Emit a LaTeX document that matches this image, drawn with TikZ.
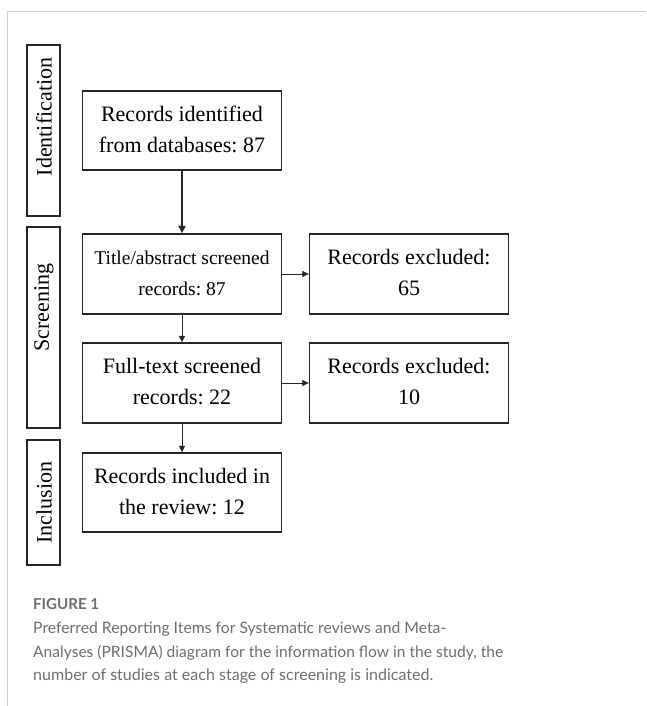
\documentclass[tikz,border=0pt]{standalone}
\usepackage{fontspec}
\usepackage{graphicx}
\setmainfont{Liberation Serif}
\newfontfamily\capfont{Lato}
\usetikzlibrary{arrows.meta}
\frenchspacing
\definecolor{framegray}{HTML}{D0D0D0}
\definecolor{capgray}{HTML}{6E6E6E}
\definecolor{boxline}{HTML}{262626}
\newcommand{\boxtext}[2][22]{{\fontsize{#1}{31}\selectfont\begin{tabular}{@{}c@{}}#2\end{tabular}}}
\newcommand{\sidetext}[1]{\rotatebox{90}{\fontsize{22}{26}\selectfont #1}}
\newcommand{\capline}[2]{\resizebox{#1}{!}{\fontsize{15}{22}\selectfont\capfont #2}}
\tikzset{
  flowbox/.style={draw=boxline, line width=1.4pt, rectangle, inner sep=0pt, minimum width=199pt},
  sidebox/.style={draw=boxline, line width=1.4pt, rectangle, inner sep=0pt, minimum width=33pt},
  plain/.style={inner sep=0pt},
  flowarrow/.style={draw=boxline, line width=0.8pt, -{Triangle[length=6.5pt,width=6pt]}},
  bigarrow/.style={draw=boxline, line width=1.6pt, -{Triangle[length=7.5pt,width=7pt]}},
  captext/.style={inner sep=0pt, anchor=base west, text=capgray}
}
\begin{document}
\begin{tikzpicture}[x=1pt,y=-1pt]
\useasboundingbox (0,0) rectangle (646,706);
% outer frame
\coordinate (frameR) at (646,12);
\coordinate (frameC) at (7,12);
\coordinate (frameB) at (7,706);
\draw[framegray, line width=1pt] (frameR) -- (frameC) -- (frameB);
% side boxes
\node[sidebox, minimum height=171pt] (idbox) at (43.5,130.5) {};
\node[plain] (idtext) at (44,117) {\sidetext{Identification}};
\node[sidebox, minimum height=201pt] (scbox) at (43.5,327.5) {};
\node[plain] (sctext) at (44,307.5) {\sidetext{Screening}};
\node[sidebox, minimum height=125pt] (inbox) at (43.5,502.5) {};
\node[plain] (intext) at (44,502.5) {\sidetext{Inclusion}};
% flow boxes
\node[flowbox, minimum height=79pt] (rid) at (182,130.5) {\boxtext{Records identified\\from databases: 87}};
\node[flowbox, minimum height=80pt] (tas) at (182,274) {\boxtext[19.5]{Title/abstract screened\\records: 87}};
\node[flowbox, minimum height=80pt] (ex1) at (409,274) {\boxtext{Records excluded:\\65}};
\node[flowbox, minimum height=80pt] (fts) at (182,383) {\boxtext{Full-text screened\\records: 22}};
\node[flowbox, minimum height=80pt] (ex2) at (409,383) {\boxtext{Records excluded:\\10}};
\node[flowbox, minimum height=79pt] (inc) at (182,492.5) {\boxtext{Records included in\\the review: 12}};
% arrows
\draw[bigarrow] (rid.south) -- (tas.north);
\draw[flowarrow] (tas.east) -- (ex1.west);
\draw[flowarrow] (tas.south) -- (fts.north);
\draw[flowarrow] (fts.east) -- (ex2.west);
\draw[flowarrow] (fts.south) -- (inc.north);
% caption
\node[captext] (figlabel) at (33,609) {\resizebox{66pt}{!}{\fontsize{15}{22}\selectfont\capfont\bfseries FIGURE 1}};
\node[captext] (cap1) at (33,633) {\capline{413pt}{Preferred Reporting Items for Systematic reviews and Meta-}};
\node[captext] (cap2) at (33,657) {\capline{470pt}{Analyses (PRISMA) diagram for the information flow in the study, the}};
\node[captext] (cap3) at (33,680) {\capline{400pt}{number of studies at each stage of screening is indicated.}};
\end{tikzpicture}
\end{document}
